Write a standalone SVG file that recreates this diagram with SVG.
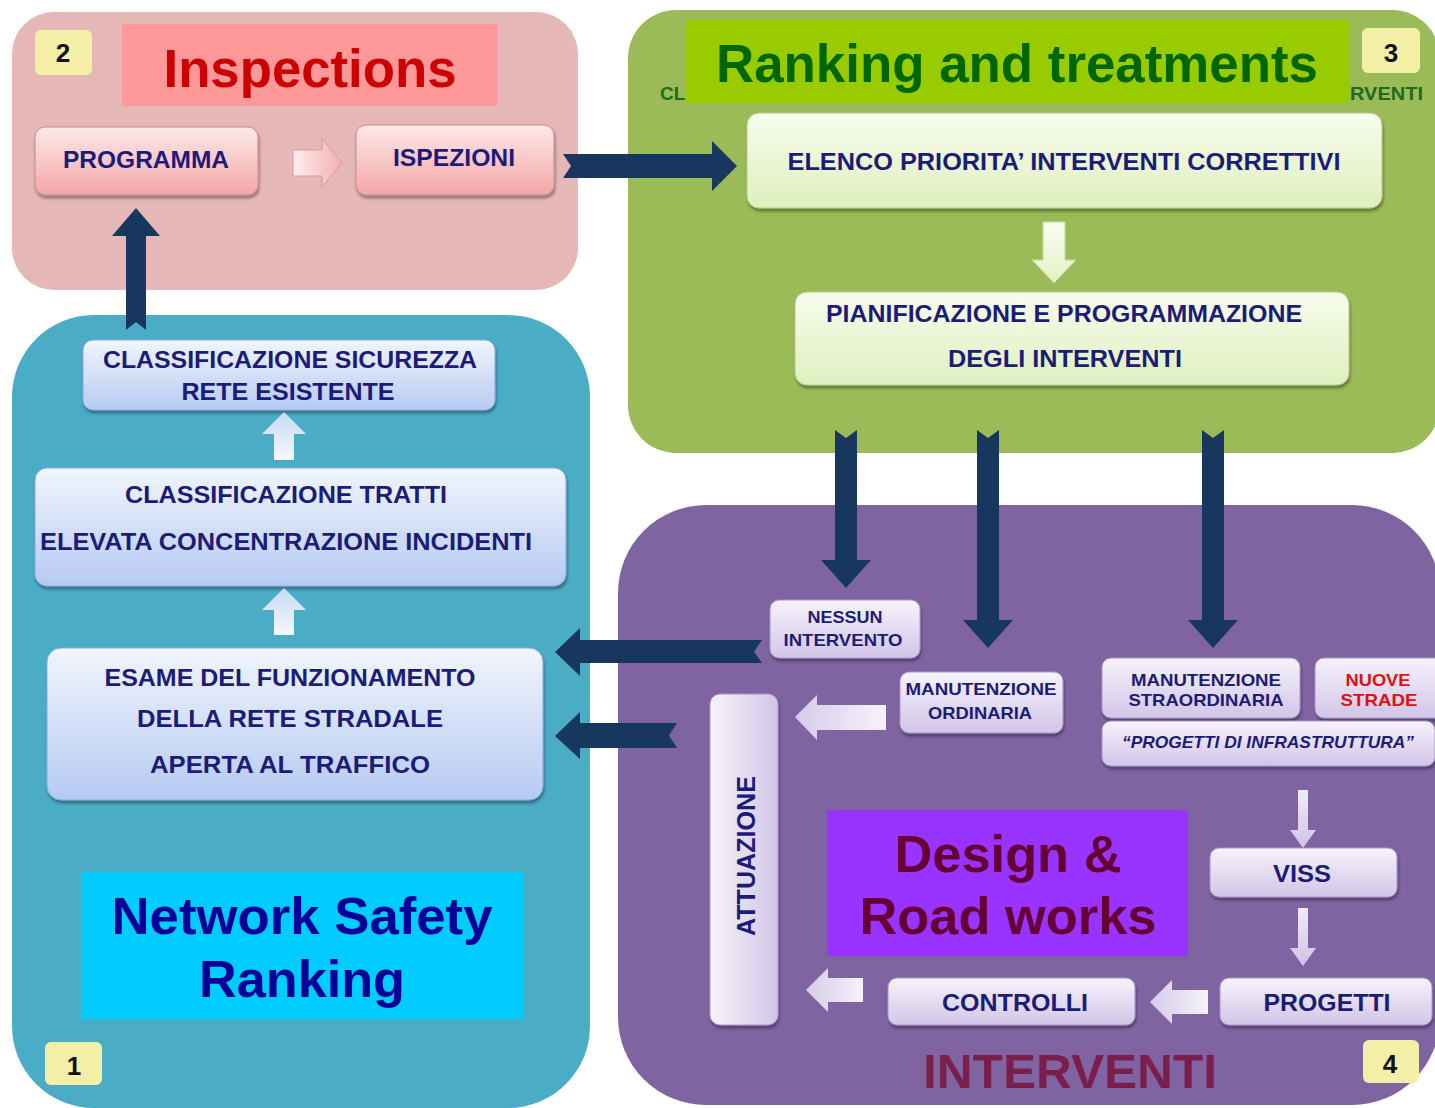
<svg xmlns="http://www.w3.org/2000/svg" width="1435" height="1108" viewBox="0 0 1435 1108">
  <defs>
    <style>
      .panel-text { font-family: "Liberation Sans", Arial, sans-serif; font-weight: bold; }
      .box-text { font-family: "Liberation Sans", Arial, sans-serif; font-weight: bold; fill: #1c1c78; text-anchor: middle; }
      .badge { fill: #f3efa6; }
      .badge-text { font-family: "Liberation Sans", Arial, sans-serif; font-weight: bold; font-size: 26px; fill: #111; text-anchor: middle; }
      .dark-arrow { fill: #17375e; }
      .box-pink { fill: url(#gPink); stroke: #c98a8a; stroke-width: 1; filter: url(#shadow); }
      .box-green { fill: url(#gGreen); stroke: #b6cc88; stroke-width: 1; filter: url(#shadow); }
      .box-blue { fill: url(#gBlue); stroke: #8fa9d8; stroke-width: 1; filter: url(#shadow); }
      .box-purple { fill: url(#gPurple); stroke: #a896c8; stroke-width: 1; filter: url(#shadow); }
    </style>
    <linearGradient id="gPink" x1="0" y1="0" x2="0" y2="1">
      <stop offset="0" stop-color="#fde9e9"/>
      <stop offset="1" stop-color="#f4a6a6"/>
    </linearGradient>
    <linearGradient id="gGreen" x1="0" y1="0" x2="0" y2="1">
      <stop offset="0" stop-color="#f8fcee"/>
      <stop offset="1" stop-color="#dfefbf"/>
    </linearGradient>
    <linearGradient id="gBlue" x1="0" y1="0" x2="0" y2="1">
      <stop offset="0" stop-color="#f1f5fd"/>
      <stop offset="1" stop-color="#b6caf2"/>
    </linearGradient>
    <linearGradient id="gPurple" x1="0" y1="0" x2="0" y2="1">
      <stop offset="0" stop-color="#f6f3fb"/>
      <stop offset="1" stop-color="#d2c5e8"/>
    </linearGradient>
    <linearGradient id="gPurpleH" x1="0" y1="0" x2="1" y2="0">
      <stop offset="0" stop-color="#f6f3fb"/>
      <stop offset="1" stop-color="#d2c5e8"/>
    </linearGradient>
    <linearGradient id="aPink" x1="0" y1="0" x2="1" y2="0">
      <stop offset="0" stop-color="#fdeeee"/>
      <stop offset="1" stop-color="#f3b0b0"/>
    </linearGradient>
    <linearGradient id="aGreen" x1="0" y1="0" x2="0" y2="1">
      <stop offset="0" stop-color="#fbfdf3"/>
      <stop offset="1" stop-color="#e3f0c6"/>
    </linearGradient>
    <linearGradient id="aBlue" x1="0" y1="1" x2="0" y2="0">
      <stop offset="0" stop-color="#f4f7fe"/>
      <stop offset="1" stop-color="#c9d9f5"/>
    </linearGradient>
    <linearGradient id="aPurple" x1="1" y1="0" x2="0" y2="0">
      <stop offset="0" stop-color="#f6f3fb"/>
      <stop offset="1" stop-color="#d6cbea"/>
    </linearGradient>
    <linearGradient id="aPurpleV" x1="0" y1="0" x2="0" y2="1">
      <stop offset="0" stop-color="#f0ebf8"/>
      <stop offset="1" stop-color="#cfc2e6"/>
    </linearGradient>
    <filter id="shadow" x="-10%" y="-20%" width="120%" height="150%">
      <feDropShadow dx="1" dy="3" stdDeviation="1.6" flood-color="#000" flood-opacity="0.35"/>
    </filter>
  </defs>

  <rect width="1435" height="1108" fill="#ffffff"/>

  <!-- Panel 2: inspections -->
  <g id="panel-inspections">
    <rect x="12" y="12" width="566" height="278" rx="42" fill="#e5b8b7"/>
    <rect class="badge" x="35" y="30" width="57" height="45" rx="6"/>
    <text class="badge-text" x="63" y="62">2</text>
    <rect x="122" y="24" width="375" height="82" fill="#ff9999"/>
    <text class="panel-text" x="310" y="87" font-size="53" fill="#cc0000" text-anchor="middle" textLength="293" lengthAdjust="spacingAndGlyphs">Inspections</text>
  </g>

  <!-- Panel 3: ranking and treatments -->
  <g id="panel-ranking">
    <rect x="628" y="10" width="812" height="443" rx="48" fill="#9bbb59"/>
    <text x="660" y="100" font-family="Liberation Sans, Arial, sans-serif" font-weight="bold" font-size="19" fill="#1d6b1d">CL</text>
    <text x="1350" y="100" font-family="Liberation Sans, Arial, sans-serif" font-weight="bold" font-size="19" fill="#1d6b1d" textLength="73" lengthAdjust="spacingAndGlyphs">RVENTI</text>
    <rect x="686" y="20" width="664" height="83" fill="#99cc00"/>
    <text class="panel-text" x="1017" y="82" font-size="53" fill="#006600" text-anchor="middle" textLength="602" lengthAdjust="spacingAndGlyphs">Ranking and treatments</text>
    <rect class="badge" x="1362" y="28" width="58" height="45" rx="6"/>
    <text class="badge-text" x="1391" y="62">3</text>
  </g>

  <!-- Panel 1: network safety ranking -->
  <g id="panel-network">
    <rect x="12" y="315" width="578" height="793" rx="82" fill="#4bacc6"/>
    <rect x="81" y="872" width="442" height="147" fill="#00ccff"/>
    <text class="panel-text" x="302" y="934" font-size="52" fill="#000099" text-anchor="middle" textLength="381" lengthAdjust="spacingAndGlyphs">Network Safety</text>
    <text class="panel-text" x="302" y="997" font-size="52" fill="#000099" text-anchor="middle" textLength="206" lengthAdjust="spacingAndGlyphs">Ranking</text>
    <rect class="badge" x="45" y="1042" width="57" height="43" rx="6"/>
    <text class="badge-text" x="74" y="1075">1</text>
  </g>

  <!-- Panel 4: interventions -->
  <g id="panel-interventi">
    <rect x="618" y="505" width="822" height="600" rx="88" fill="#8064a2"/>
    <rect x="827" y="810" width="361" height="146" fill="#9933ff"/>
    <text class="panel-text" x="1008" y="872" font-size="52" fill="#660033" text-anchor="middle" textLength="227" lengthAdjust="spacingAndGlyphs">Design &amp;</text>
    <text class="panel-text" x="1008" y="934" font-size="52" fill="#660033" text-anchor="middle" textLength="297" lengthAdjust="spacingAndGlyphs">Road works</text>
    <text class="panel-text" x="1070" y="1088" font-size="48" fill="#7a1f4c" text-anchor="middle" textLength="294" lengthAdjust="spacingAndGlyphs">INTERVENTI</text>
    <rect class="badge" x="1363" y="1040" width="56" height="43" rx="6"/>
    <text class="badge-text" x="1390" y="1073">4</text>
  </g>

  <!-- Process boxes -->
  <g id="programma">
    <rect class="box-pink" x="35" y="127" width="223" height="68" rx="10"/>
    <text class="box-text" x="146" y="168" font-size="24" textLength="166" lengthAdjust="spacingAndGlyphs">PROGRAMMA</text>
  </g>
  <g id="ispezioni">
    <rect class="box-pink" x="356" y="125" width="198" height="70" rx="10"/>
    <text class="box-text" x="454" y="166" font-size="24" textLength="122" lengthAdjust="spacingAndGlyphs">ISPEZIONI</text>
  </g>
  <g id="elenco">
    <rect class="box-green" x="747" y="113" width="635" height="95" rx="12"/>
    <text class="box-text" x="1064" y="170" font-size="24" textLength="553" lengthAdjust="spacingAndGlyphs">ELENCO PRIORITA’ INTERVENTI CORRETTIVI</text>
  </g>
  <g id="pianificazione">
    <rect class="box-green" x="795" y="292" width="554" height="93" rx="12"/>
    <text class="box-text" x="1064" y="322" font-size="24" textLength="476" lengthAdjust="spacingAndGlyphs">PIANIFICAZIONE E PROGRAMMAZIONE</text>
    <text class="box-text" x="1065" y="367" font-size="24" textLength="234" lengthAdjust="spacingAndGlyphs">DEGLI INTERVENTI</text>
  </g>
  <g id="classificazione-sicurezza">
    <rect class="box-blue" x="83" y="340" width="412" height="70" rx="10"/>
    <text class="box-text" x="290" y="368" font-size="24" textLength="374" lengthAdjust="spacingAndGlyphs">CLASSIFICAZIONE SICUREZZA</text>
    <text class="box-text" x="288" y="400" font-size="24" textLength="213" lengthAdjust="spacingAndGlyphs">RETE ESISTENTE</text>
  </g>
  <g id="classificazione-tratti">
    <rect class="box-blue" x="35" y="468" width="531" height="118" rx="12"/>
    <text class="box-text" x="286" y="503" font-size="24" textLength="322" lengthAdjust="spacingAndGlyphs">CLASSIFICAZIONE TRATTI</text>
    <text class="box-text" x="286" y="550" font-size="24" textLength="492" lengthAdjust="spacingAndGlyphs">ELEVATA CONCENTRAZIONE INCIDENTI</text>
  </g>
  <g id="esame">
    <rect class="box-blue" x="47" y="648" width="496" height="152" rx="14"/>
    <text class="box-text" x="290" y="686" font-size="24" textLength="371" lengthAdjust="spacingAndGlyphs">ESAME DEL FUNZIONAMENTO</text>
    <text class="box-text" x="290" y="727" font-size="24" textLength="306" lengthAdjust="spacingAndGlyphs">DELLA RETE STRADALE</text>
    <text class="box-text" x="290" y="773" font-size="24" textLength="280" lengthAdjust="spacingAndGlyphs">APERTA AL TRAFFICO</text>
  </g>
  <g id="nessun-intervento">
    <rect class="box-purple" x="770" y="600" width="150" height="58" rx="9"/>
    <text class="box-text" x="845" y="623" font-size="17" textLength="75" lengthAdjust="spacingAndGlyphs">NESSUN</text>
    <text class="box-text" x="843" y="646" font-size="17" textLength="119" lengthAdjust="spacingAndGlyphs">INTERVENTO</text>
  </g>
  <g id="manutenzione-ordinaria">
    <rect class="box-purple" x="900" y="672" width="163" height="61" rx="9"/>
    <text class="box-text" x="981" y="695" font-size="17" textLength="151" lengthAdjust="spacingAndGlyphs">MANUTENZIONE</text>
    <text class="box-text" x="980" y="719" font-size="17" textLength="104" lengthAdjust="spacingAndGlyphs">ORDINARIA</text>
  </g>
  <g id="attuazione">
    <rect x="710" y="694" width="68" height="331" rx="10" fill="url(#gPurpleH)" stroke="#a896c8" stroke-width="1" filter="url(#shadow)"/>
    <text class="box-text" transform="translate(755 856) rotate(-90)" x="0" y="0" font-size="25" textLength="160" lengthAdjust="spacingAndGlyphs">ATTUAZIONE</text>
  </g>
  <g id="manutenzione-straordinaria">
    <rect class="box-purple" x="1102" y="658" width="198" height="60" rx="9"/>
    <text class="box-text" x="1206" y="686" font-size="17" textLength="150" lengthAdjust="spacingAndGlyphs">MANUTENZIONE</text>
    <text class="box-text" x="1206" y="706" font-size="17" textLength="155" lengthAdjust="spacingAndGlyphs">STRAORDINARIA</text>
  </g>
  <g id="nuove-strade">
    <rect class="box-purple" x="1315" y="658" width="130" height="60" rx="9"/>
    <text class="box-text" x="1378" y="686" font-size="17" style="fill:#e01010" textLength="65" lengthAdjust="spacingAndGlyphs">NUOVE</text>
    <text class="box-text" x="1379" y="706" font-size="17" style="fill:#e01010" textLength="77" lengthAdjust="spacingAndGlyphs">STRADE</text>
  </g>
  <g id="progetti-infrastruttura">
    <rect class="box-purple" x="1102" y="721" width="333" height="45" rx="9"/>
    <text class="box-text" x="1268" y="748" font-size="17" font-style="italic" textLength="292" lengthAdjust="spacingAndGlyphs">“PROGETTI DI INFRASTRUTTURA”</text>
  </g>
  <g id="viss">
    <rect class="box-purple" x="1210" y="848" width="187" height="49" rx="9"/>
    <text class="box-text" x="1302" y="882" font-size="24" textLength="58" lengthAdjust="spacingAndGlyphs">VISS</text>
  </g>
  <g id="progetti">
    <rect class="box-purple" x="1220" y="978" width="212" height="47" rx="9"/>
    <text class="box-text" x="1327" y="1011" font-size="24" textLength="127" lengthAdjust="spacingAndGlyphs">PROGETTI</text>
  </g>
  <g id="controlli">
    <rect class="box-purple" x="888" y="978" width="247" height="47" rx="9"/>
    <text class="box-text" x="1015" y="1011" font-size="24" textLength="146" lengthAdjust="spacingAndGlyphs">CONTROLLI</text>
  </g>

  <!-- Connectors -->
  <g id="connectors">
    <!-- block arrows inside the panels -->
    <path d="M293,150 L322,150 L322,139 L342,163 L322,187 L322,176 L293,176 Z" fill="url(#aPink)" stroke="#d99a9a" stroke-width="1"/>
    <path d="M1043,222 L1065,222 L1065,260 L1076,260 L1054,283 L1032,260 L1043,260 Z" fill="url(#aGreen)" stroke="#c5da9a" stroke-width="1"/>
    <path d="M274,460 L274,434 L262,434 L284,412 L306,434 L294,434 L294,460 Z" fill="url(#aBlue)"/>
    <path d="M274,635 L274,610 L262,610 L284,588 L306,610 L294,610 L294,635 Z" fill="url(#aBlue)"/>
    <path d="M886,705 L817,705 L817,695 L795,717 L817,740 L817,730 L886,730 Z" fill="url(#aPurple)"/>
    <path d="M1298,790 L1308,790 L1308,830 L1316,830 L1303,848 L1290,830 L1298,830 Z" fill="url(#aPurpleV)"/>
    <path d="M1298,908 L1308,908 L1308,948 L1316,948 L1303,966 L1290,948 L1298,948 Z" fill="url(#aPurpleV)"/>
    <path d="M1208,990 L1172,990 L1172,980 L1150,1002 L1172,1024 L1172,1014 L1208,1014 Z" fill="url(#aPurple)"/>
    <path d="M863,978 L828,978 L828,968 L806,990 L828,1012 L828,1002 L863,1002 Z" fill="url(#aPurple)"/>

    <!-- dark arrows between the panels -->
    <path class="dark-arrow" d="M563,154 L712,154 L712,141 L737,166 L712,191 L712,178 L563,178 L571,166 Z"/>
    <path class="dark-arrow" d="M126,330 L126,236 L112,236 L136,208 L160,236 L146,236 L146,330 L136,322 Z"/>
    <path class="dark-arrow" d="M835,430 L846,438 L857,430 L857,560 L871,560 L846,588 L821,560 L835,560 Z"/>
    <path class="dark-arrow" d="M977,430 L988,438 L999,430 L999,620 L1013,620 L988,648 L963,620 L977,620 Z"/>
    <path class="dark-arrow" d="M1202,430 L1213,438 L1224,430 L1224,620 L1238,620 L1213,648 L1188,620 L1202,620 Z"/>
    <path class="dark-arrow" d="M762,640 L580,640 L580,628 L555,652 L580,676 L580,663 L762,663 L754,651.5 Z"/>
    <path class="dark-arrow" d="M677,723 L580,723 L580,712 L555,736 L580,759 L580,748 L677,748 L669,735.5 Z"/>
  </g>
</svg>
